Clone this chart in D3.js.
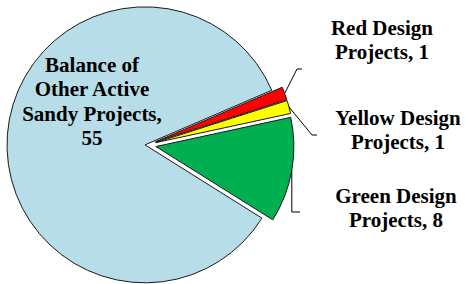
<!DOCTYPE html>
<html>
<head>
<meta charset="utf-8">
<script src="https://cdn.jsdelivr.net/npm/d3@7"></script>
<style>
  body { margin: 0; background: #fff; }
</style>
</head>
<body>
<svg id="chart" width="465" height="284"></svg>
<script>
// slice order runs clockwise from the red slice
var categories = ['Red Design Projects', 'Yellow Design Projects', 'Green Design Projects', 'Balance of Other Active Sandy Projects'];
var values = [1, 1, 8, 55];
var colors = ['#ff0000', '#ffff00', '#00b050', '#b7dde8'];
var labelLines = [
  ['Red Design', 'Projects, 1'],
  ['Yellow Design', 'Projects, 1'],
  ['Green Design', 'Projects, 8'],
  ['Balance of', 'Other Active', 'Sandy Projects,', '55']
];

var cx = 147, cy = 145, r = 138;
var explode = [9, 9, 9, 2];
// where each label sits, and where the leader elbow goes
var labelPos = [[382, 35], [398, 125], [396, 203], [92, 72]];
var elbows = [[[297, 69], [302, 69]], [[312, 135], [317, 135]], [null, [300, 212]], null];

var svg = d3.select('#chart');
var g = svg.append('g').attr('transform', 'translate(' + cx + ',' + cy + ')');

var pie = d3.pie().sort(null)
  .startAngle(66.7 * Math.PI / 180)
  .endAngle(66.7 * Math.PI / 180 + 2 * Math.PI);
var arc = d3.arc().innerRadius(0).outerRadius(r);
var arcs = pie(values);

function offset(d, i, k) {
  var a = (d.startAngle + d.endAngle) / 2;
  return [Math.sin(a) * k, -Math.cos(a) * k];
}

g.selectAll('path.slice')
  .data(arcs)
  .enter()
  .append('path')
  .attr('class', 'slice')
  .attr('d', arc)
  .attr('transform', function(d, i) {
    var o = offset(d, i, explode[i]);
    return 'translate(' + o[0] + ',' + o[1] + ')';
  })
  .style('fill', function(d, i) { return colors[i]; })
  .style('stroke', '#1a1a1a')
  .style('stroke-width', 1);

// leader lines for the small slices
arcs.forEach(function(d, i) {
  if (!elbows[i]) return;
  var p0 = offset(d, i, r + explode[i]);
  var start = [cx + p0[0], cy + p0[1]];
  var mid = elbows[i][0] || [start[0], elbows[i][1][1]];
  svg.append('path')
    .attr('d', d3.line()([start, mid, elbows[i][1]]))
    .style('fill', 'none')
    .style('stroke', '#000')
    .style('stroke-width', 1);
});

labelLines.forEach(function(lines, i) {
  var t = svg.append('text')
    .attr('text-anchor', 'middle')
    .attr('x', labelPos[i][0])
    .attr('y', labelPos[i][1])
    .style('font-family', "'Liberation Serif', serif")
    .style('font-weight', 'bold')
    .style('font-size', '21px')
    .style('fill', '#000');
  lines.forEach(function(line, j) {
    t.append('tspan')
      .attr('x', labelPos[i][0])
      .attr('dy', j === 0 ? 0 : (i === 3 ? 24.3 : 23.5))
      .text(line);
  });
});
</script>
</body>
</html>
